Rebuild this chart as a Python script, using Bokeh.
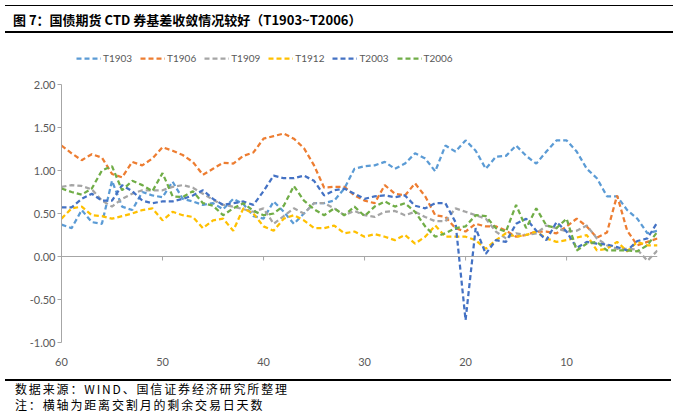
from bokeh.plotting import figure
from bokeh.models import (Range1d, FixedTicker, NumeralTickFormatter,
                          Legend, LegendItem, Div, Span)
from bokeh.layouts import column
from bokeh.embed import file_html
from bokeh.resources import INLINE

# remaining trading days before delivery month (60 -> 1)
days = list(range(60, 0, -1))

t1903 = [0.37, 0.33, 0.54, 0.40, 0.38, 0.88, 0.58, 0.54, 0.75, 0.71,
         0.69, 0.87, 0.67, 0.64, 0.60, 0.62, 0.55, 0.67, 0.61, 0.47,
         0.44, 0.64, 0.52, 0.38, 0.50, 0.62, 0.62, 0.65, 0.79, 1.02,
         1.05, 1.06, 1.10, 1.02, 1.08, 1.20, 1.14, 0.99, 1.29, 1.22,
         1.35, 1.23, 1.02, 1.16, 1.17, 1.29, 1.17, 1.08, 1.22, 1.35,
         1.35, 1.22, 1.02, 0.91, 0.70, 0.70, 0.54, 0.44, 0.27, 0.30]
t1906 = [1.29, 1.20, 1.12, 1.19, 1.15, 0.96, 0.92, 1.10, 1.06, 1.14,
         1.27, 1.23, 1.18, 1.10, 0.95, 1.02, 1.09, 1.08, 1.17, 1.21,
         1.37, 1.40, 1.43, 1.37, 1.26, 1.06, 0.80, 0.81, 0.81, 0.71,
         0.65, 0.62, 0.83, 0.73, 0.71, 0.85, 0.70, 0.48, 0.46, 0.33,
         0.29, 0.38, 0.35, 0.35, 0.30, 0.23, 0.25, 0.29, 0.29, 0.27,
         0.35, 0.44, 0.35, 0.22, 0.28, 0.71, 0.30, 0.13, 0.17, 0.21]
t1909 = [0.81, 0.83, 0.82, 0.78, 0.65, 0.58, 0.67, 0.73, 0.77, 0.77,
         0.77, 0.81, 0.83, 0.80, 0.73, 0.66, 0.60, 0.58, 0.55, 0.52,
         0.56, 0.38, 0.47, 0.56, 0.50, 0.62, 0.62, 0.56, 0.48, 0.53,
         0.48, 0.46, 0.52, 0.53, 0.48, 0.52, 0.46, 0.41, 0.41, 0.56,
         0.52, 0.48, 0.44, 0.29, 0.21, 0.27, 0.25, 0.27, 0.36, 0.33,
         0.29, 0.30, 0.36, 0.21, 0.13, 0.09, 0.09, 0.08, -0.05, 0.07]
t1912 = [0.44, 0.56, 0.58, 0.48, 0.47, 0.44, 0.47, 0.50, 0.54, 0.56,
         0.42, 0.52, 0.48, 0.46, 0.33, 0.42, 0.44, 0.30, 0.56, 0.50,
         0.35, 0.30, 0.44, 0.48, 0.42, 0.33, 0.33, 0.36, 0.27, 0.29,
         0.23, 0.26, 0.23, 0.19, 0.25, 0.15, 0.23, 0.36, 0.23, 0.23,
         0.23, 0.19, 0.09, 0.19, 0.27, 0.23, 0.25, 0.29, 0.21, 0.17,
         0.19, 0.22, 0.25, 0.07, 0.09, 0.17, 0.06, 0.17, 0.13, 0.13]
t2003 = [0.57, 0.57, 0.67, 0.73, 0.65, 0.65, 0.83, 0.76, 0.65, 0.62,
         0.64, 0.64, 0.67, 0.71, 0.77, 0.67, 0.60, 0.62, 0.64, 0.60,
         0.76, 0.94, 0.91, 0.91, 0.94, 0.88, 0.71, 0.77, 0.79, 0.73,
         0.67, 0.70, 0.71, 0.69, 0.71, 0.59, 0.56, 0.62, 0.62, 0.40,
         -0.74, 0.33, 0.03, 0.19, 0.17, 0.38, 0.44, 0.30, 0.19, 0.40,
         0.29, 0.10, 0.17, 0.15, 0.14, 0.11, 0.07, 0.18, 0.21, 0.40]
t2006 = [0.79, 0.75, 0.72, 0.79, 1.00, 1.05, 0.77, 0.88, 0.83, 0.76,
         0.97, 0.70, 0.69, 0.76, 0.62, 0.59, 0.48, 0.56, 0.62, 0.53,
         0.48, 0.50, 0.59, 0.82, 0.65, 0.55, 0.48, 0.56, 0.48, 0.58,
         0.47, 0.58, 0.64, 0.58, 0.62, 0.52, 0.35, 0.23, 0.27, 0.33,
         0.35, 0.48, 0.47, 0.33, 0.29, 0.60, 0.33, 0.56, 0.36, 0.33,
         0.44, 0.07, 0.15, 0.17, 0.07, 0.07, 0.07, 0.06, 0.13, 0.29]

names = ["T1903", "T1906", "T1909", "T1912", "T2003", "T2006"]
colors = ["#5B9BD5", "#ED7D31", "#A5A5A5", "#FFC000", "#4472C4", "#70AD47"]
values = [t1903, t1906, t1909, t1912, t2003, t2006]

x_ticks = [60, 50, 40, 30, 20, 10]
y_ticks = [-1.0, -0.5, 0.0, 0.5, 1.0, 1.5, 2.0]

title_text = "图 7：国债期货 CTD 券基差收敛情况较好（T1903~T2006）"
source_text = "数据来源：WIND、国信证券经济研究所整理"
note_text = "注：横轴为距离交割月的剩余交易日天数"

FONT = "Lato"
AXIS_GRAY = "#A6A6A6"
LABEL_COLOR = "#595959"
TOTAL_W = 676

# layout (pixels)
FRAME_W = 596
PX_PER_UNIT = 86.0
EXTRA_TOP = 40          # room above 2.00 for the legend, inside the frame
FRAME_H = int(3 * PX_PER_UNIT + EXTRA_TOP)
y_top = 2.0 + EXTRA_TOP / PX_PER_UNIT

p = figure(frame_width=FRAME_W, frame_height=FRAME_H,
           output_backend="svg", toolbar_location=None,
           x_range=Range1d(60, 1), y_range=Range1d(-1, y_top),
           min_border_left=61, min_border_right=19,
           min_border_top=6, min_border_bottom=32)
p.outline_line_color = None
p.xgrid.visible = False
p.ygrid.visible = False

renderers = []
for name, vals, col in zip(names, values, colors):
    r = p.line(days, vals, line_color=col, line_width=2.25, line_dash="5 3")
    renderers.append((name, r))

# horizontal axis line crossing at zero, with its tick marks
p.add_layout(Span(location=0, dimension="width", line_color=AXIS_GRAY, line_width=1))
tick_len = 4 / PX_PER_UNIT
p.segment(x0=x_ticks, y0=[0] * len(x_ticks), x1=x_ticks, y1=[-tick_len] * len(x_ticks),
          line_color=AXIS_GRAY, line_width=1)

# bottom labels only
xa = p.xaxis[0]
xa.ticker = FixedTicker(ticks=x_ticks)
xa.axis_line_color = None
xa.major_tick_line_color = None
xa.minor_tick_line_color = None
xa.major_label_standoff = 9
xa.major_label_text_font = FONT
xa.major_label_text_font_size = "11px"
xa.major_label_text_color = LABEL_COLOR

ya = p.yaxis[0]
ya.ticker = FixedTicker(ticks=y_ticks)
ya.bounds = (-1, 2)
ya.formatter = NumeralTickFormatter(format="0.00")
ya.axis_line_color = AXIS_GRAY
ya.major_tick_line_color = AXIS_GRAY
ya.major_tick_out = 4
ya.major_tick_in = 0
ya.minor_tick_line_color = None
ya.major_label_standoff = 2
ya.major_label_text_font = FONT
ya.major_label_text_font_size = "11px"
ya.major_label_text_color = LABEL_COLOR

legend = Legend(items=[LegendItem(label=n, renderers=[r]) for n, r in renderers],
                orientation="horizontal", location=(15, FRAME_H - 20),
                glyph_width=25, glyph_height=12, label_standoff=2, spacing=8,
                padding=0, margin=0, border_line_color=None,
                background_fill_alpha=0,
                label_text_font=FONT, label_text_font_size="10px",
                label_text_color=LABEL_COLOR)
p.add_layout(legend)

TITLE_PAD = 8
title_div = Div(text=title_text, width=TOTAL_W - TITLE_PAD, height=28,
                styles={"border-top": "1.5px solid #000",
                        "border-bottom": "2px solid #000",
                        "font-family": "'Noto Sans CJK SC', sans-serif",
                        "font-weight": "bold", "font-size": "13px",
                        "line-height": "28px", "padding-left": f"{TITLE_PAD}px",
                        "color": "#000", "white-space": "nowrap"})

FOOT_PAD = 10
foot_div = Div(text=source_text + "<br>" + note_text, width=TOTAL_W - FOOT_PAD, height=30,
               styles={"border-top": "2px solid #000",
                       "font-family": "'Noto Sans CJK SC', sans-serif",
                       "font-size": "12px", "line-height": "16px",
                       "letter-spacing": "1.85px", "padding-left": f"{FOOT_PAD}px",
                       "color": "#000", "white-space": "nowrap"})

layout = column(title_div, p, foot_div, spacing=0)

open("out.html", "w").write(file_html(layout, INLINE))
